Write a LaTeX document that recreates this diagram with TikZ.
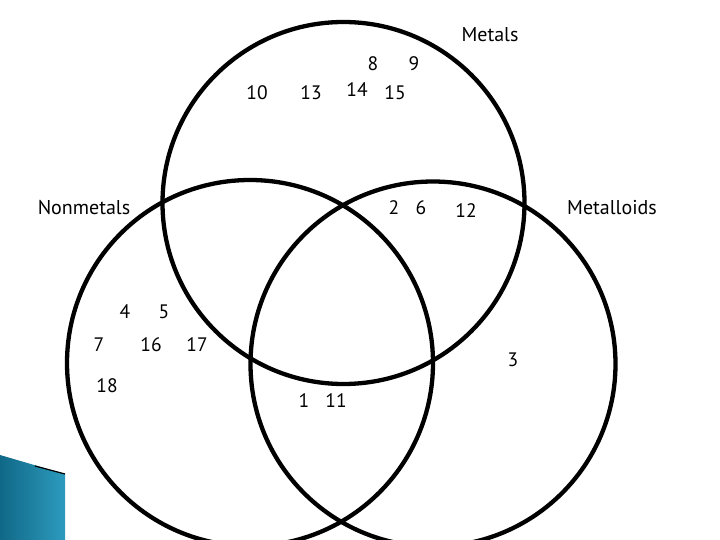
\documentclass[tikz,border=0pt]{standalone}
\usepackage{fontspec}
\setmainfont{PT Sans}
\definecolor{tealdark}{RGB}{16,104,135}
\definecolor{teallight}{RGB}{45,155,190}
\begin{document}
\begin{tikzpicture}[x=1pt,y=-1pt,
  ring/.style={draw=black,line width=4.3pt},
  lbl/.style={font=\fontsize{20}{22}\selectfont,inner sep=0pt},
  num/.style={font=\fontsize{19.5}{22}\selectfont,inner sep=0pt}]
\useasboundingbox (0,0) rectangle (720,540);
\clip (0,0) rectangle (720,540);
\fill[white] (0,0) rectangle (720,540);
% decoration
\shade[left color=tealdark, right color=teallight] (0,455) -- (65,474) -- (65,540) -- (0,540) -- cycle;
\coordinate (d1) at (35,466);
\coordinate (d2) at (65,474);
\draw[line width=1.2pt] (d1) -- (d2);
% circles
\node[ring,circle,minimum size=362pt,inner sep=0pt] (metals) at (343.5,203) {};
\node[ring,circle,minimum size=366pt,inner sep=0pt] (nonmetals) at (250,363) {};
\node[ring,circle,minimum size=365pt,inner sep=0pt] (metalloids) at (433,364) {};
% labels
\node[lbl] (tm) at (490,35) {Metals};
\node[lbl] (tn) at (84,208) {Nonmetals};
\node[lbl] (tl) at (612,208) {Metalloids};
% numbers
\node[num] (n8) at (373,64) {8};
\node[num] (n9) at (414,64) {9};
\node[num] (n10) at (257,93) {10};
\node[num] (n13) at (311,93) {13};
\node[num] (n14) at (357,90) {14};
\node[num] (n15) at (395,93) {15};
\node[num] (n2) at (394,208) {2};
\node[num] (n6) at (421,208) {6};
\node[num] (n12) at (466,211) {12};
\node[num] (n4) at (125,312) {4};
\node[num] (n5) at (164,312) {5};
\node[num] (n7) at (99,345) {7};
\node[num] (n16) at (151,345) {16};
\node[num] (n17) at (197,345) {17};
\node[num] (n3) at (513,360) {3};
\node[num] (n18) at (107,386) {18};
\node[num] (n1) at (304,401) {1};
\node[num] (n11) at (336,401) {11};
\end{tikzpicture}
\end{document}
